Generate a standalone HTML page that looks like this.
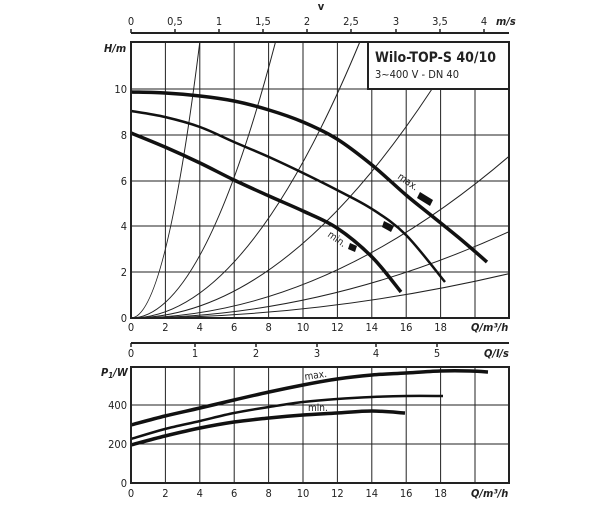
<!DOCTYPE html>
<html><head><meta charset="utf-8"><style>
html,body{margin:0;padding:0;background:#fff;}
svg text{font-family:"DejaVu Sans Condensed","Liberation Sans",sans-serif;font-size:11px;fill:#222;}
.b{font-weight:bold;font-style:italic;}
</style></head><body>
<svg width="612" height="500" viewBox="0 0 612 500" xmlns="http://www.w3.org/2000/svg">
<rect width="612" height="500" fill="#fff"/>
<text x="321" y="10" text-anchor="middle" style="font-weight:bold">v</text>
<line x1="131" y1="33" x2="509" y2="33" stroke="#222" stroke-width="2"/>
<g stroke="#222" stroke-width="1.5">
<line x1="131" y1="29" x2="131" y2="33"/><line x1="175" y1="29" x2="175" y2="33"/><line x1="219" y1="29" x2="219" y2="33"/><line x1="263" y1="29" x2="263" y2="33"/><line x1="307" y1="29" x2="307" y2="33"/><line x1="351" y1="29" x2="351" y2="33"/><line x1="396" y1="29" x2="396" y2="33"/><line x1="440" y1="29" x2="440" y2="33"/><line x1="484" y1="29" x2="484" y2="33"/>
</g>
<g text-anchor="middle">
<text x="131" y="25">0</text><text x="175" y="25">0,5</text><text x="219" y="25">1</text><text x="263" y="25">1,5</text><text x="307" y="25">2</text><text x="351" y="25">2,5</text><text x="396" y="25">3</text><text x="440" y="25">3,5</text><text x="484" y="25">4</text>
</g>
<text x="496" y="25" class="b">m/s</text>

<g stroke="#222" stroke-width="1">
<line x1="165.4" y1="42" x2="165.4" y2="318"/><line x1="199.8" y1="42" x2="199.8" y2="318"/><line x1="234.2" y1="42" x2="234.2" y2="318"/><line x1="268.6" y1="42" x2="268.6" y2="318"/><line x1="303" y1="42" x2="303" y2="318"/><line x1="337.4" y1="42" x2="337.4" y2="318"/><line x1="371.8" y1="89" x2="371.8" y2="318"/><line x1="406.2" y1="89" x2="406.2" y2="318"/><line x1="440.6" y1="89" x2="440.6" y2="318"/><line x1="475" y1="89" x2="475" y2="318"/>
<line x1="131" y1="89" x2="509" y2="89"/><line x1="131" y1="135" x2="509" y2="135"/><line x1="131" y1="181" x2="509" y2="181"/><line x1="131" y1="226" x2="509" y2="226"/><line x1="131" y1="272" x2="509" y2="272"/>
</g>
<g fill="none" stroke="#222" stroke-width="1">
<path d="M131 318 Q165.4 318 199.8 42"/>
<path d="M131 318 Q203.2 318 275.5 42"/>
<path d="M131 318 Q245.4 318 359.8 42"/>
<path d="M131 318 Q281.5 318 432 89"/>
<path d="M131 318 Q320.2 318 509.4 156"/>
<path d="M131 318 Q320.2 318 509.4 231.5"/>
<path d="M131 318 Q320.2 318 509.4 273.6"/>
</g>
<rect x="368" y="42" width="141" height="47" fill="#fff" stroke="#222" stroke-width="2"/>
<text x="375" y="62" style="font-size:14px;font-weight:bold">Wilo-TOP-S 40/10</text>
<text x="375" y="78" style="font-size:11px">3~400 V - DN 40</text>
<g fill="none" stroke="#111" stroke-linejoin="round">
<path class="s" stroke-width="3.5" d="M131,92 165,93 200,96 234,101 269,110 303,122 337,139 372,165 406,195 427,212 458,237 487,262"/>
<path class="s" stroke-width="2.5" d="M131,111 165,117 200,127 234,142 269,157 303,173 337,190 372,209 406,235 445,282"/>
<path class="s" stroke-width="3.5" d="M131,133 165,147 200,163 234,180 269,196 303,211 337,228 372,257 401,292"/>
</g>
<g fill="#111">
<polygon points="420,192 433,200 430,206 417,198"/>
<polygon points="384,221 394,226 391,232 382,227"/>
<polygon points="350,243 357,246 355,252 348,249"/>
</g>
<text x="397" y="178" transform="rotate(35 397 178)" style="font-size:10px">max.</text>
<text x="327" y="236" transform="rotate(35 327 236)" style="font-size:10px">min.</text>
<rect x="131" y="42" width="378" height="276" fill="none" stroke="#222" stroke-width="2"/>
<text x="104" y="52" class="b">H/m</text>
<g text-anchor="end">
<text x="127" y="93">10</text><text x="127" y="139">8</text><text x="127" y="185">6</text><text x="127" y="230">4</text><text x="127" y="276">2</text><text x="127" y="322">0</text>
</g>
<g text-anchor="middle">
<text x="131" y="331">0</text><text x="165.4" y="331">2</text><text x="199.8" y="331">4</text><text x="234.2" y="331">6</text><text x="268.6" y="331">8</text><text x="303" y="331">10</text><text x="337.4" y="331">12</text><text x="371.8" y="331">14</text><text x="406.2" y="331">16</text><text x="440.6" y="331">18</text>
</g>
<text x="471" y="331" class="b">Q/m³/h</text>

<line x1="131" y1="343" x2="509" y2="343" stroke="#222" stroke-width="2"/>
<g stroke="#222" stroke-width="1.5">
<line x1="131" y1="343" x2="131" y2="347"/><line x1="195" y1="343" x2="195" y2="347"/><line x1="256" y1="343" x2="256" y2="347"/><line x1="317" y1="343" x2="317" y2="347"/><line x1="376" y1="343" x2="376" y2="347"/><line x1="437" y1="343" x2="437" y2="347"/>
</g>
<g text-anchor="middle">
<text x="131" y="357">0</text><text x="195" y="357">1</text><text x="256" y="357">2</text><text x="317" y="357">3</text><text x="376" y="357">4</text><text x="437" y="357">5</text>
</g>
<text x="484" y="357" class="b">Q/l/s</text>

<g stroke="#222" stroke-width="1">
<line x1="165.4" y1="367" x2="165.4" y2="483"/><line x1="199.8" y1="367" x2="199.8" y2="483"/><line x1="234.2" y1="367" x2="234.2" y2="483"/><line x1="268.6" y1="367" x2="268.6" y2="483"/><line x1="303" y1="367" x2="303" y2="483"/><line x1="337.4" y1="367" x2="337.4" y2="483"/><line x1="371.8" y1="367" x2="371.8" y2="483"/><line x1="406.2" y1="367" x2="406.2" y2="483"/><line x1="440.6" y1="367" x2="440.6" y2="483"/><line x1="475" y1="367" x2="475" y2="483"/>
<line x1="131" y1="405" x2="509" y2="405"/><line x1="131" y1="444" x2="509" y2="444"/>
</g>
<g fill="none" stroke="#111" stroke-linejoin="round">
<path class="s" stroke-width="3.5" d="M131,425 165,416 200,408 234,400 269,392 303,385 337,379 372,375 406,373 440,371 470,371 488,372"/>
<path class="s" stroke-width="2.5" d="M131,439 165,429 200,421 234,413 269,407 303,402 337,399 372,397 406,396 443,396"/>
<path class="s" stroke-width="3.5" d="M131,445 165,436 200,428 234,422 269,418 303,415 337,413 372,411 405,413"/>
</g>
<text x="305" y="380" transform="rotate(-8 305 380)" style="font-size:10px">max.</text>
<text x="308" y="411" style="font-size:10px">min.</text>
<rect x="131" y="367" width="378" height="116" fill="none" stroke="#222" stroke-width="2"/>
<text x="101" y="376" class="b">P<tspan style="font-size:8px" dy="2">1</tspan><tspan dy="-2">/W</tspan></text>
<g text-anchor="end">
<text x="127" y="409">400</text><text x="127" y="448">200</text><text x="127" y="487">0</text>
</g>
<g text-anchor="middle">
<text x="131" y="497">0</text><text x="165.4" y="497">2</text><text x="199.8" y="497">4</text><text x="234.2" y="497">6</text><text x="268.6" y="497">8</text><text x="303" y="497">10</text><text x="337.4" y="497">12</text><text x="371.8" y="497">14</text><text x="406.2" y="497">16</text><text x="440.6" y="497">18</text>
</g>
<text x="471" y="497" class="b">Q/m³/h</text>
</svg>
<script>
document.querySelectorAll('path.s').forEach(function(p){
  var n=p.getAttribute('d').replace('M','').trim().split(/\s+/).map(function(s){return s.split(',').map(Number);});
  var d='M'+n[0][0]+','+n[0][1];
  for(var i=0;i<n.length-1;i++){
    var p0=n[i-1]||n[i],p1=n[i],p2=n[i+1],p3=n[i+2]||n[i+1];
    var c1=[p1[0]+(p2[0]-p0[0])/6,p1[1]+(p2[1]-p0[1])/6];
    var c2=[p2[0]-(p3[0]-p1[0])/6,p2[1]-(p3[1]-p1[1])/6];
    d+=' C'+c1[0].toFixed(1)+','+c1[1].toFixed(1)+' '+c2[0].toFixed(1)+','+c2[1].toFixed(1)+' '+p2[0]+','+p2[1];
  }
  p.setAttribute('d',d);
});
</script>
</body></html>
